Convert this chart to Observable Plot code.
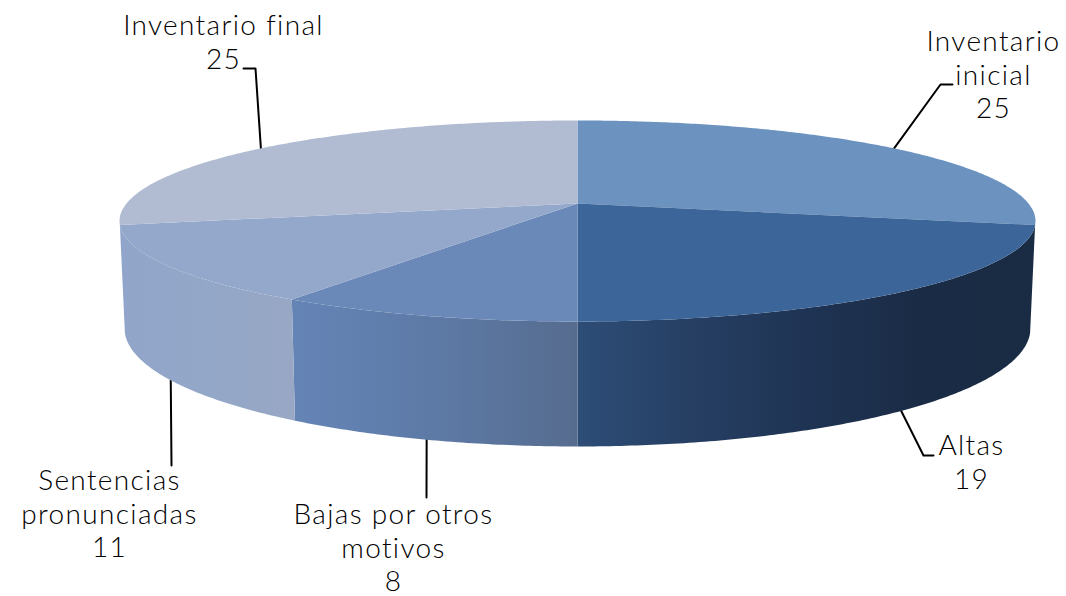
<!DOCTYPE html>
<html><head><meta charset="utf-8">
<style>html,body{margin:0;padding:0;background:#fff}svg text{letter-spacing:1.35px}</style>
<script src="https://cdn.jsdelivr.net/npm/d3@7"></script>
<script src="https://cdn.jsdelivr.net/npm/@observablehq/plot@0.6"></script>
</head><body><div id="chart"></div>
<script>
const categories = ["Inventario inicial","Altas","Bajas por otros motivos","Sentencias pronunciadas","Inventario final"];
const values = [25,19,8,11,25];
const labelLines = [["Inventario","inicial","25"],["Altas","19"],["Bajas por otros","motivos","8"],["Sentencias","pronunciadas","11"],["Inventario final","25"]];
const topColors = ["#6c93c0","#3c6699","#6a89b9","#93a8ca","#b1bcd3"];
const wallStops = [null,["#2d4d77","#263f63","#1f3454","#1a2b45","#1a2b44"],["#6584b6","#5d7aa6","#566c8f"],["#90a5c9","#93a7c8","#98a7c4"],null];
// label placement: first-line centre, and the leader's elbows
const labelX = [993,971,393,109,223];
const labelY = [42,446,515,481,26];
const elbows = [[[940,84],[952,84]],[[923,455],[933,455]],[[426,497]],[[171,465]],[[255,68],[243,68]]];

// perspective model of the disc
const cx=577, cy=203, A=451, B=97.45, K=0.174, S=0.989, D=104.3;
const total = d3.sum(values);
const cum = d3.cumsum(values);
const ang = i => [(i?cum[i-1]:0)/total*2*Math.PI, cum[i]/total*2*Math.PI];
const rim = (t, lower=false) => {
  const u=Math.sin(t), v=-Math.cos(t), w=1-K*v, s=lower?S:1;
  return {x:cx+s*A*u/w, y:cy+s*B*v/w+(lower?D/w:0)};
};
const arc = (a,b,lower) => {
  const n=Math.max(2,Math.ceil((b-a)/0.01)), pts=[];
  for(let j=0;j<=n;j++) pts.push(rim(a+(b-a)*j/n,lower));
  return pts;
};
const slices = values.map((_,i)=>{const [a,b]=ang(i);return [{x:cx,y:cy},...arc(a,b,false)];});
const walls = values.map((_,i)=>{
  if(!wallStops[i]) return null;
  const [a,b]=ang(i);
  return [...arc(a,b,false),...arc(a,b,true).reverse()];
});
const leaders = values.map((_,i)=>{
  const [a,b]=ang(i), m=(a+b)/2, front=Math.cos(m)<0;
  const p=rim(m,front);
  return [p,...elbows[i].map(([x,y])=>({x,y}))];
});
const textRows = labelLines.flatMap((ls,i)=>ls.map((t,j)=>({t,x:labelX[i],y:labelY[i]+j*33.4})));

const defs = () => {
  const d=d3.create("svg:defs");
  wallStops.forEach((st,i)=>{
    if(!st) return;
    const g=d.append("linearGradient").attr("id","wall"+i);
    st.forEach((c,k)=>g.append("stop").attr("offset",k/(st.length-1)).attr("stop-color",c));
  });
  return d.node();
};

const chart = Plot.plot({
  width:1066,height:596,margin:0,
  x:{domain:[0,1066],range:[0,1066],axis:null},
  y:{domain:[0,596],range:[0,596],axis:null},
  marks:[
    defs,
    ...leaders.map(l=>Plot.line(l,{x:"x",y:"y",stroke:"#000",strokeWidth:2})),
    ...walls.filter(Boolean).map((w,k)=>Plot.line(w,{x:"x",y:"y",fill:`url(#wall${k+1})`,stroke:"none"})),
    ...slices.map((s,i)=>Plot.line(s,{x:"x",y:"y",fill:topColors[i],stroke:"none"})),
    Plot.text(textRows,{x:"x",y:"y",text:"t",fontFamily:"Lato",fontWeight:300,fontSize:28,fill:"#000",textAnchor:"middle"})
  ]
});
document.getElementById("chart").append(chart);
</script></body></html>
